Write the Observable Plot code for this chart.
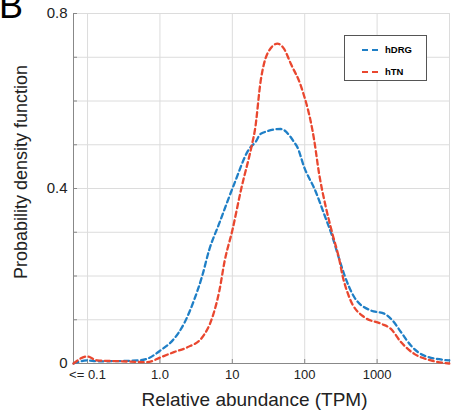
<!DOCTYPE html>
<html>
<head>
<meta charset="utf-8">
<script src="https://cdn.jsdelivr.net/npm/d3@7"></script>
<script src="https://cdn.jsdelivr.net/npm/@observablehq/plot@0.6"></script>
<style>
  html, body { margin: 0; padding: 0; background: #fff; }
  #wrap { position: relative; width: 453px; height: 414px; overflow: hidden; font-family: "Liberation Sans", Arial, sans-serif; }
  #panel { position: absolute; left: -1px; top: -12px; font-size: 36px; color: #000; line-height: 1; }
  #ylabel { position: absolute; left: 21px; top: 172px; transform: translate(-50%, -50%) rotate(-90deg); white-space: nowrap; font-size: 18px; color: #222; }
  #legend { position: absolute; left: 344px; top: 35px; width: 83px; height: 46px; border: 1px solid #555; background: #fff; box-sizing: border-box; font-size: 9.5px; font-weight: bold; }
  .row { position: absolute; left: 17px; display: flex; align-items: center; }
  .row span { margin-left: 5px; }
</style>
</head>
<body>
<div id="wrap">
  <div id="chart"></div>
  <div id="panel">B</div>
  <div id="ylabel">Probability density function</div>
  <div id="legend"></div>
</div>
<script>
const seriesNames = ["hDRG", "hTN"];
const seriesColors = ["#1f7fc6", "#e9472f"];

// hDRG: TPM and density
const hdrgTPM = [0.064, 0.099, 0.136, 0.5, 0.67, 1.02, 1.56, 2.15, 2.95, 3.85, 4.76, 6.55, 10.6, 17.0, 21.1, 24.7, 46.7, 64.3, 71.3, 79.4, 98.2, 142.6, 185, 242, 299, 349, 482, 820, 1253, 1637, 2133, 2931, 4477, 9931];
const hdrgPDF = [0, 0.007, 0.005, 0.007, 0.011, 0.030, 0.056, 0.091, 0.144, 0.201, 0.258, 0.319, 0.41, 0.49, 0.507, 0.525, 0.536, 0.517, 0.506, 0.494, 0.449, 0.392, 0.342, 0.289, 0.239, 0.205, 0.152, 0.121, 0.114, 0.098, 0.072, 0.041, 0.018, 0.007];

// hTN: TPM and density
const htnTPM = [0.064, 0.099, 0.136, 0.3, 0.67, 1.02, 1.56, 2.39, 3.85, 5.31, 6.6, 7.85, 10.0, 13.1, 19.0, 20.5, 24.7, 30.5, 42, 51.9, 64.3, 88.3, 135, 158, 196, 242, 299, 333, 411, 664, 1130, 1552, 2133, 3258, 5546, 9931];
const htnPDF = [0, 0.016, 0.007, 0.005, 0.003, 0.014, 0.026, 0.037, 0.060, 0.106, 0.165, 0.235, 0.304, 0.395, 0.506, 0.533, 0.647, 0.708, 0.731, 0.719, 0.685, 0.635, 0.511, 0.434, 0.357, 0.296, 0.239, 0.201, 0.152, 0.106, 0.091, 0.079, 0.049, 0.022, 0.007, 0];

const xTicks = [0.1, 1, 10, 100, 1000];
const xTickLabels = ["<= 0.1", "1.0", "10", "100", "1000"];
const xGrid = [0.1, 1, 10, 100, 1000, 10000];
const yTicks = [0, 0.4, 0.8];
const yTickLabels = ["0", "0.4", "0.8"];
const yGrid = [0, 0.1, 0.2, 0.3, 0.4, 0.5, 0.6, 0.7, 0.8];

const xLabelMap = new Map(xTicks.map((t, i) => [t, xTickLabels[i]]));
const yLabelMap = new Map(yTicks.map((t, i) => [t, yTickLabels[i]]));

const data = [
  ...hdrgTPM.map((t, i) => ({series: seriesNames[0], tpm: t, pdf: hdrgPDF[i]})),
  ...htnTPM.map((t, i) => ({series: seriesNames[1], tpm: t, pdf: htnPDF[i]}))
];

const chart = Plot.plot({
  width: 453,
  height: 414,
  marginLeft: 73,
  marginRight: 4,
  marginTop: 13,
  marginBottom: 51,
  style: {fontFamily: "Liberation Sans, Arial, sans-serif", background: "#fff", color: "#222"},
  x: {type: "log", domain: [0.064, 10000]},
  y: {domain: [0, 0.8]},
  color: {domain: seriesNames, range: seriesColors},
  marks: [
    Plot.gridX(xGrid, {stroke: "#dcdcdc", strokeOpacity: 1}),
    Plot.gridY(yGrid, {stroke: "#dcdcdc", strokeOpacity: 1}),
    Plot.axisX(xGrid, {tickSize: -4, stroke: "#888", text: null, label: null}),
    Plot.axisX(xTicks, {tickSize: 0, tickPadding: 6, fontSize: 13, tickFormat: d => xLabelMap.get(d), label: null}),
    Plot.axisY(yGrid, {tickSize: -4, stroke: "#888", text: null, label: null}),
    Plot.axisY(yTicks, {tickSize: 0, tickPadding: 6, fontSize: 15, tickFormat: d => yLabelMap.get(d), label: null}),
    Plot.ruleX([0.064], {stroke: "#888"}),
    Plot.ruleY([0], {stroke: "#888"}),
    Plot.line(data, {x: "tpm", y: "pdf", z: "series", stroke: "series", strokeWidth: 2.3, strokeDasharray: "5,3.5", curve: "monotone-x"}),
    Plot.text(["Relative abundance (TPM)"], {frameAnchor: "bottom", dx: -7, dy: 42, fontSize: 19, fill: "#222"})
  ]
});
document.getElementById("chart").appendChild(chart);

// legend
const legend = document.getElementById("legend");
seriesNames.forEach((name, i) => {
  const row = document.createElement("div");
  row.className = "row";
  row.style.top = (i === 0 ? 8 : 30) + "px";
  row.innerHTML = `<svg width="18" height="6"><line x1="0" y1="3" x2="18" y2="3" stroke="${seriesColors[i]}" stroke-width="2.2" stroke-dasharray="6,4"/></svg><span>${name}</span>`;
  legend.appendChild(row);
});
</script>
</body>
</html>
